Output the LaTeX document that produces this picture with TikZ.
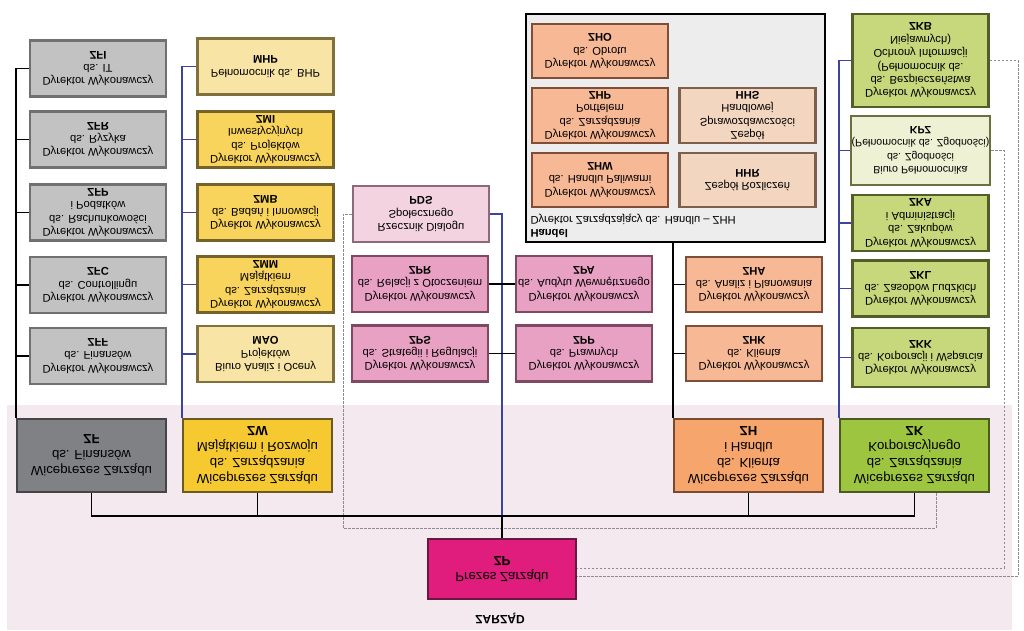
\documentclass[tikz,border=0pt]{standalone}
\usepackage{fontspec}
\setmainfont{Liberation Sans}
\definecolor{cbg}{HTML}{F3E9EE}
\definecolor{cgray}{HTML}{C2C2C2}
\definecolor{cgrayd}{HTML}{707070}
\definecolor{czf}{HTML}{7F8184}
\definecolor{czfd}{HTML}{454545}
\definecolor{cylt}{HTML}{F8E4A4}
\definecolor{cyltd}{HTML}{80703C}
\definecolor{cyel}{HTML}{F9D45C}
\definecolor{cyeld}{HTML}{75622A}
\definecolor{czw}{HTML}{F6C930}
\definecolor{czwd}{HTML}{6B5A22}
\definecolor{cplt}{HTML}{F3D3DF}
\definecolor{cpltd}{HTML}{8C6A7A}
\definecolor{cpnk}{HTML}{E9A1C3}
\definecolor{cpnkd}{HTML}{7D4A62}
\definecolor{czp}{HTML}{E01C7C}
\definecolor{czpd}{HTML}{6A1840}
\definecolor{corg}{HTML}{F7B895}
\definecolor{corgd}{HTML}{7E4E38}
\definecolor{cpch}{HTML}{F3D6C0}
\definecolor{cpchd}{HTML}{7E5E4C}
\definecolor{czh}{HTML}{F6A66C}
\definecolor{czhd}{HTML}{7A4A2C}
\definecolor{cgrp}{HTML}{EDEDED}
\definecolor{cgrn}{HTML}{C6D77C}
\definecolor{cgrnd}{HTML}{525E2A}
\definecolor{cglt}{HTML}{EFF1D4}
\definecolor{cgltd}{HTML}{6A7040}
\definecolor{czk}{HTML}{9EC53F}
\definecolor{czkd}{HTML}{4A5A22}
\definecolor{cblue}{HTML}{3C44A0}
\definecolor{cdash}{HTML}{8C8C8C}
\begin{document}
\begin{tikzpicture}[x=1pt,y=1pt,yscale=-1,transform shape,
  box/.style={draw,line width=2.2pt,align=center,inner sep=1pt,minimum width=136pt,minimum height=56pt,font=\fontsize{11.2}{13.4}\selectfont},
  vpbox/.style={box,minimum width=149pt,minimum height=73pt,font=\fontsize{13.2}{16}\selectfont},
  graybox/.style={box,fill=cgray,draw=cgrayd},
  ylbox/.style={box,fill=cylt,draw=cyltd},
  yebox/.style={box,fill=cyel,draw=cyeld},
  plbox/.style={box,fill=cplt,draw=cpltd},
  pkbox/.style={box,fill=cpnk,draw=cpnkd},
  orbox/.style={box,fill=corg,draw=corgd},
  pcbox/.style={box,fill=cpch,draw=cpchd},
  gnbox/.style={box,fill=cgrn,draw=cgrnd},
  glbox/.style={box,fill=cglt,draw=cgltd},
  conn/.style={draw=black,line width=1.6pt},
  bline/.style={draw=cblue,line width=1.3pt},
  dline/.style={draw=cdash,line width=0.8pt,dash pattern=on 2.5pt off 1.5pt}]
\useasboundingbox (0,0) rectangle (1024,630);
\fill[cbg] (7,405) rectangle (1012,630);
\node[draw=black,line width=1.8pt,fill=cgrp,minimum width=299pt,minimum height=228pt] (zhh) at (675.5,128) {};
\node[anchor=west,align=left,font=\fontsize{11.2}{12.5}\selectfont] (zhhlabel) at (527,226) {\textbf{Handel}\\Dyrektor Zarządzający ds. Handlu -- ZHH};
\node[graybox] (zfi) at (98,68.5) {Dyrektor Wykonawczy\\ds. IT\\\textbf{ZFI}};
\node[graybox] (zfr) at (98,139.5) {Dyrektor Wykonawczy\\ds. Ryzyka\\\textbf{ZFR}};
\node[graybox] (zfp) at (98,212.5) {Dyrektor Wykonawczy\\ds. Rachunkowości\\i Podatków\\\textbf{ZFP}};
\node[graybox] (zfc) at (98,285) {Dyrektor Wykonawczy\\ds. Controllingu\\\textbf{ZFC}};
\node[graybox] (zff) at (98,356) {Dyrektor Wykonawczy\\ds. Finansów\\\textbf{ZFF}};
\node[ylbox] (mhp) at (265.5,66.5) {Pełnomocnik ds. BHP\\\textbf{MHP}};
\node[yebox] (zmi) at (265.5,139.5) {Dyrektor Wykonawczy\\ds. Projektów\\Inwestycyjnych\\\textbf{ZMI}};
\node[yebox] (zmb) at (265.5,212.5) {Dyrektor Wykonawczy\\ds. Badań i Innowacji\\\textbf{ZMB}};
\node[yebox] (zmm) at (265.5,284.5) {Dyrektor Wykonawczy\\ds. Zarządzania\\Majątkiem\\\textbf{ZMM}};
\node[ylbox] (mao) at (265.5,354) {Biuro Analiz i Oceny\\Projektów\\\textbf{MAO}};
\node[plbox] (pds) at (421,214) {Rzecznik Dialogu\\Społecznego\\\textbf{PDS}};
\node[pkbox] (zpr) at (420,284) {Dyrektor Wykonawczy\\ds. Relacji z Otoczeniem\\\textbf{ZPR}};
\node[pkbox] (zps) at (420,353.5) {Dyrektor Wykonawczy\\ds. Strategii i Regulacji\\\textbf{ZPS}};
\node[pkbox] (zpa) at (584,284) {Dyrektor Wykonawczy\\ds. Audytu Wewnętrznego\\\textbf{ZPA}};
\node[pkbox] (zpp) at (584,353.5) {Dyrektor Wykonawczy\\ds. Prawnych\\\textbf{ZPP}};
\node[orbox,minimum height=54pt] (zho) at (600,51) {Dyrektor Wykonawczy\\ds. Obrotu\\\textbf{ZHO}};
\node[orbox,minimum height=55pt] (zhp) at (600,115.5) {Dyrektor Wykonawczy\\ds. Zarządzania\\Portfelem\\\textbf{ZHP}};
\node[orbox,minimum height=54pt] (zhw) at (600,180) {Dyrektor Wykonawczy\\ds. Handlu Paliwami\\\textbf{ZHW}};
\node[pcbox,minimum height=55pt] (hhs) at (747.5,115.5) {Zespół\\Sprawozdawczości\\Handlowej\\\textbf{HHS}};
\node[pcbox,minimum height=54pt] (hhr) at (747.5,180) {Zespół Rozliczeń\\\textbf{HHR}};
\node[orbox,minimum height=55pt] (zha) at (754,284.5) {Dyrektor Wykonawczy\\ds. Analiz i Planowania\\\textbf{ZHA}};
\node[orbox,minimum height=55pt] (zhk) at (754,353.5) {Dyrektor Wykonawczy\\ds. Klienta\\\textbf{ZHK}};
\node[gnbox,minimum height=93pt] (zkb) at (920.5,60.5) {Dyrektor Wykonawczy\\ds. Bezpieczeństwa\\(Pełnomocnik ds.\\Ochrony Informacji\\Niejawnych)\\\textbf{ZKB}};
\node[glbox,minimum height=69pt,font=\fontsize{10.6}{13.4}\selectfont] (kpz) at (920.5,150.5) {Biuro Pełnomocnika\\ds. Zgodności\\(Pełnomocnik ds. Zgodności)\\\textbf{KPZ}};
\node[gnbox] (zka) at (920.5,223) {Dyrektor Wykonawczy\\ds. Zakupów\\i Administracji\\\textbf{ZKA}};
\node[gnbox] (zkl) at (920.5,288.5) {Dyrektor Wykonawczy\\ds. Zasobów Ludzkich\\\textbf{ZKL}};
\node[gnbox,minimum height=59pt] (zkk) at (920.5,357.5) {Dyrektor Wykonawczy\\ds. Korporacji i Wsparcia\\\textbf{ZKK}};
\node[vpbox,fill=czf,draw=czfd] (zf) at (91.5,455.5) {Wiceprezes Zarządu\\ds. Finansów\\\textbf{ZF}};
\node[vpbox,fill=czw,draw=czwd] (zw) at (257.5,455.5) {Wiceprezes Zarządu\\ds. Zarządzania\\Majątkiem i Rozwoju\\\textbf{ZW}};
\node[vpbox,fill=czh,draw=czhd] (zh) at (748.5,455.5) {Wiceprezes Zarządu\\ds. Klienta\\i Handlu\\\textbf{ZH}};
\node[vpbox,fill=czk,draw=czkd] (zk) at (914.5,455.5) {Wiceprezes Zarządu\\ds. Zarządzania\\Korporacyjnego\\\textbf{ZK}};
\node[vpbox,fill=czp,draw=czpd,minimum width=148pt,minimum height=60pt] (zp) at (502,569) {Prezes Zarządu\\\textbf{ZP}};
\node[font=\fontsize{12}{14}\selectfont\bfseries] (zarzad) at (500,618) {ZARZĄD};
\coordinate (bus) at (502,516);
\coordinate (dpds) at (343,528);
\coordinate (dkpz) at (1004,568);
\coordinate (dzkb) at (1018,576);
\draw[dline] (pds.west) -| (dpds) -| ([xshift=21.5pt]zk.north);
\draw[dline] (kpz.east) -| (dkpz) -- (dkpz -| zp.east);
\draw[dline] (zkb.east) -| (dzkb) -- (dzkb -| zp.east);
\draw[bline] (pds.east) -| (zp.south);
\foreach \n in {mhp,zmi,zmb,zmm,mao}
  \draw[bline] (\n.west) -| (zw.south west);
\foreach \n in {zkb,kpz,zka,zkl,zkk}
  \draw[bline] (\n.west) -| (zk.south west);
\foreach \n in {zfi,zfr,zfp,zfc,zff}
  \draw[conn] (\n.west) -| (zf.south west);
\draw[conn] (zhh.north -| zh.south west) -- (zh.south west);
\draw[conn] (zha.west) -| (zh.south west);
\draw[conn] (zhk.west) -| (zh.south west);
\draw[conn] (zpr.east) -- (zpa.west);
\draw[conn] (zps.east) -- (zpp.west);
\draw[conn] (zf.north) |- (bus) -| (zk.north);
\draw[conn] (zw.north) -- (zw.north |- bus);
\draw[conn] (zh.north) -- (zh.north |- bus);
\draw[conn] (zp.south) -- (zp.south |- bus);
\end{tikzpicture}
\end{document}
